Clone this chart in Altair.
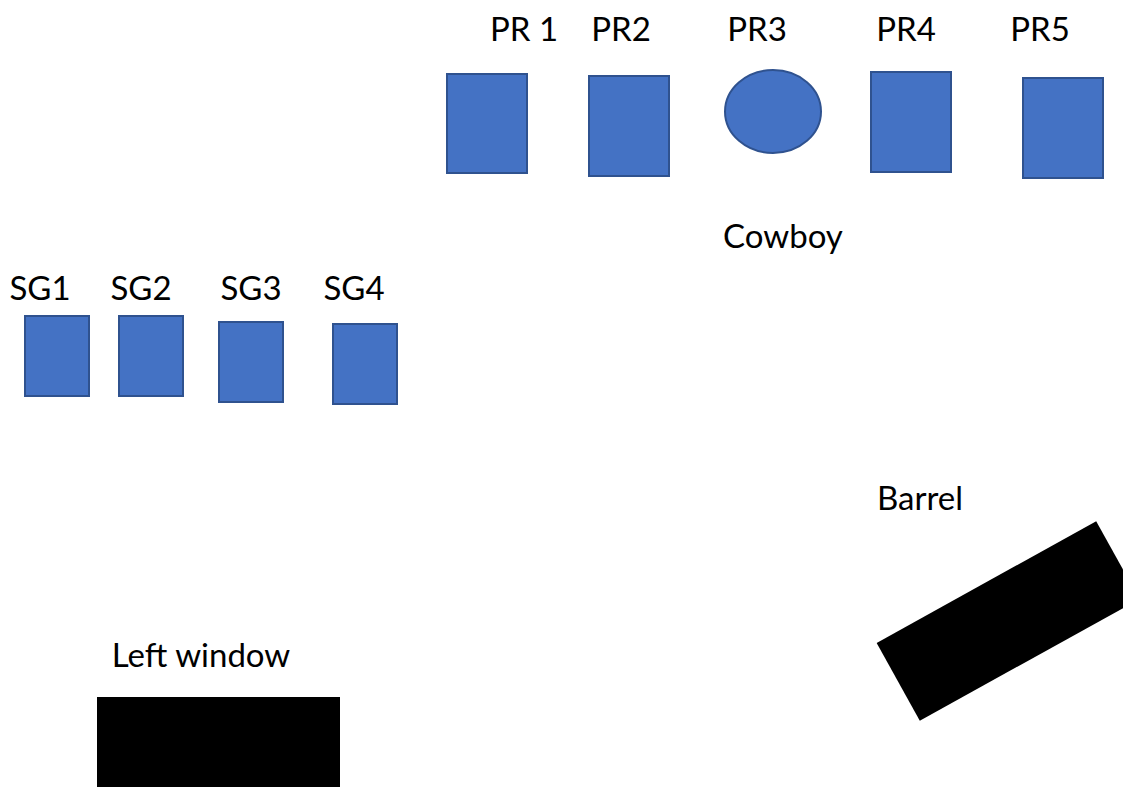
import altair as alt
import pandas as pd

# Blue rectangular targets (stroke centre-line coordinates, in image pixels)
rect_names = ["PR 1", "PR2", "PR4", "PR5", "SG1", "SG2", "SG3", "SG4"]
rect_x0 = [447, 589, 871, 1023, 25, 119, 219, 333]
rect_x1 = [527, 669, 951, 1103, 89, 183, 283, 397]
rect_y0 = [74, 76, 72, 78, 316, 316, 322, 324]
rect_y1 = [173, 176, 172, 178, 396, 396, 402, 404]

# Round target PR3
ell_names = ["PR3"]
ell_cx = [773]
ell_cy = [111.5]
ell_w = [96]
ell_h = [83]

# Black props
win_names = ["Left window"]
win_x0 = [97]
win_x1 = [340]
win_y0 = [697]
win_y1 = [795]

barrel_names = ["Barrel"]
barrel_cx = [1008]
barrel_cy = [621]
barrel_len = [251]
barrel_thick = [89]
barrel_angle = [331]

# Labels
labels = ["PR 1", "PR2", "PR3", "PR4", "PR5", "Cowboy",
          "SG1", "SG2", "SG3", "SG4", "Barrel", "Left window"]
label_x = [524, 621, 757, 906, 1040, 783, 40, 141, 251, 354, 920, 201]
label_y = [41, 41, 41, 41, 41, 248, 300, 300, 300, 300, 510, 667]

X_END, Y_END = 1123, 787
W, H = X_END - 8, Y_END - 8
xs = alt.Scale(domain=[8, X_END], nice=False, zero=False)
ys = alt.Scale(domain=[8, Y_END], nice=False, zero=False, reverse=True)

BLUE = "#4472C4"
EDGE = "#2F528F"

rects = pd.DataFrame({"name": rect_names, "x0": rect_x0, "x1": rect_x1,
                      "y0": rect_y0, "y1": rect_y1})
rect_layer = alt.Chart(rects).mark_rect(
    fill=BLUE, stroke=EDGE, strokeWidth=2
).encode(
    x=alt.X("x0:Q", scale=xs, axis=None), x2="x1:Q",
    y=alt.Y("y0:Q", scale=ys, axis=None), y2="y1:Q",
)

ell = pd.DataFrame({"name": ell_names, "cx": ell_cx, "cy": ell_cy,
                    "w": ell_w, "h": ell_h})
ratio = ell_h[0] / ell_w[0]
ell_path = (f"M -1 0 A 1 {ratio:.4f} 0 1 1 1 0 "
            f"A 1 {ratio:.4f} 0 1 1 -1 0 Z")
ell["size"] = ell["w"] ** 2
ell_layer = alt.Chart(ell).mark_point(
    shape=ell_path, filled=True, fill=BLUE, stroke=EDGE, strokeWidth=2,
    opacity=1, fillOpacity=1, strokeOpacity=1
).encode(
    x=alt.X("cx:Q", scale=xs, axis=None),
    y=alt.Y("cy:Q", scale=ys, axis=None),
    size=alt.Size("size:Q", scale=None, legend=None),
)

win = pd.DataFrame({"name": win_names, "x0": win_x0, "x1": win_x1,
                    "y0": win_y0, "y1": win_y1})
win_layer = alt.Chart(win).mark_rect(fill="black", clip=True).encode(
    x=alt.X("x0:Q", scale=xs, axis=None), x2="x1:Q",
    y=alt.Y("y0:Q", scale=ys, axis=None), y2="y1:Q",
)

bar = pd.DataFrame({"name": barrel_names, "cx": barrel_cx, "cy": barrel_cy,
                    "len": barrel_len, "thick": barrel_thick,
                    "angle": barrel_angle})
half = barrel_thick[0] / barrel_len[0]
bar_path = f"M -1 {-half:.4f} L 1 {-half:.4f} L 1 {half:.4f} L -1 {half:.4f} Z"
bar["size"] = bar["len"] ** 2
bar_layer = alt.Chart(bar).mark_point(
    shape=bar_path, filled=True, fill="black", opacity=1, fillOpacity=1,
    strokeWidth=0, clip=True
).encode(
    x=alt.X("cx:Q", scale=xs, axis=None),
    y=alt.Y("cy:Q", scale=ys, axis=None),
    size=alt.Size("size:Q", scale=None, legend=None),
    angle=alt.Angle("angle:Q", scale=None),
)

lab = pd.DataFrame({"label": labels, "x": label_x, "y": label_y})
text_layer = alt.Chart(lab).mark_text(
    font="Lato", fontSize=33, color="black", align="center",
    baseline="alphabetic"
).encode(
    x=alt.X("x:Q", scale=xs, axis=None),
    y=alt.Y("y:Q", scale=ys, axis=None),
    text="label:N",
)

chart = alt.layer(
    rect_layer, ell_layer, win_layer, bar_layer, text_layer
).properties(
    width=W, height=H, padding=0,
    autosize=alt.AutoSizeParams(type="none"),
    background="white",
).configure_view(stroke=None)

chart.save("out.html", embed_options={"renderer": "svg", "actions": False})
